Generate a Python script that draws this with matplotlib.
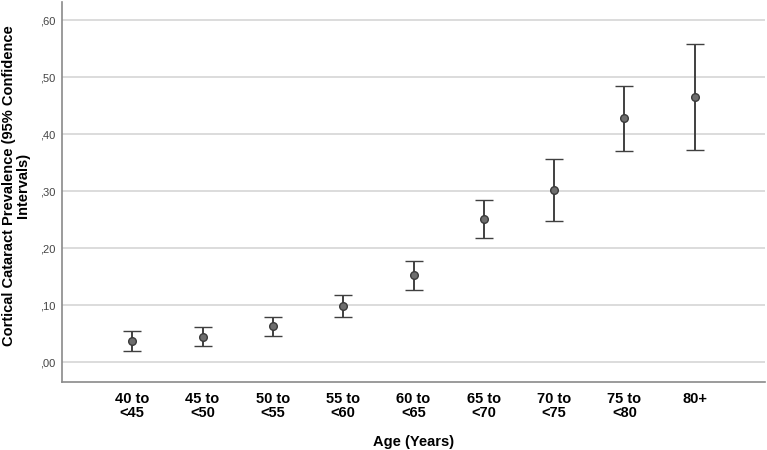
import matplotlib.pyplot as plt
import numpy as np
from matplotlib.ticker import FuncFormatter

plt.rcParams["font.family"] = ["Liberation Sans", "DejaVu Sans"]

# age groups and prevalence with 95% CI
age_groups = ["40 to\n<45", "45 to\n<50", "50 to\n<55", "55 to\n<60", "60 to\n<65",
              "65 to\n<70", "70 to\n<75", "75 to\n<80", "80+"]
prevalence = [0.037, 0.044, 0.063, 0.098, 0.152, 0.251, 0.302, 0.428, 0.465]
ci_lower = [0.019, 0.029, 0.046, 0.079, 0.127, 0.218, 0.247, 0.370, 0.372]
ci_upper = [0.055, 0.061, 0.079, 0.117, 0.177, 0.284, 0.357, 0.485, 0.558]
y_ticks = [0.0, 0.1, 0.2, 0.3, 0.4, 0.5, 0.6]

x = np.arange(len(age_groups))
prev = np.array(prevalence)
yerr = np.vstack([prev - np.array(ci_lower), np.array(ci_upper) - prev])

fig = plt.figure(figsize=(7.67, 4.5), dpi=100)
ax = fig.add_axes([62 / 767, 1 - 382 / 450, 703 / 767, 380 / 450])

ax.errorbar(x, prev, yerr=yerr, fmt="o", color="#404040", ecolor="#404040",
            elinewidth=1.4, capsize=6.5, capthick=1.4,
            markersize=5.5, markerfacecolor="#6e6e6e", markeredgecolor="#3a3a3a",
            markeredgewidth=1, zorder=3)

ax.set_xlim(-1, len(age_groups))
ax.set_ylim(-0.035, 0.632)
ax.set_yticks(y_ticks)
ax.yaxis.set_major_formatter(FuncFormatter(lambda v, p: f"{v:.2f}".replace("0.", ",", 1)))
ax.set_xticks(x)
ax.set_xticklabels(age_groups, fontsize=10.5, fontweight="bold", linespacing=1.0)
ax.tick_params(axis="y", length=0, pad=5, labelsize=8, labelcolor="#444444")
ax.tick_params(axis="x", length=0, pad=7)

ax.grid(axis="y", color="#d6d6d6", linewidth=1.2)
ax.set_axisbelow(True)
for s in ["top", "right"]:
    ax.spines[s].set_visible(False)
for s in ["left", "bottom"]:
    ax.spines[s].set_color("#8a8a8a")
    ax.spines[s].set_linewidth(1.2)

ax.set_xlabel("Age (Years)", fontsize=10.5, fontweight="bold", labelpad=11)
ax.set_ylabel("Cortical Cataract Prevalence (95% Confidence\nIntervals)",
              fontsize=10.5, fontweight="bold", linespacing=1.0)
ax.yaxis.set_label_coords(-0.045, 0.516)

fig.savefig("out.png", dpi=100)
